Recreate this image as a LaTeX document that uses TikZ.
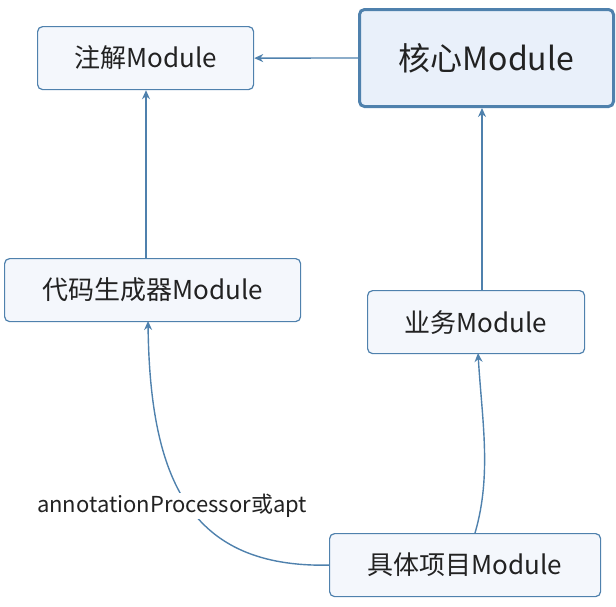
\documentclass[tikz,border=0pt]{standalone}
\usepackage{fontspec}
\setmainfont{Noto Sans CJK SC}
\usetikzlibrary{arrows.meta}
\definecolor{edge}{HTML}{4F81AD}
\definecolor{boxfill}{HTML}{F4F7FC}
\definecolor{corefill}{HTML}{E9F0FA}
\definecolor{txt}{HTML}{222222}
\tikzset{
  mod/.style={draw=edge, line width=1.2pt, fill=boxfill, rounded corners=5pt, text=txt, font=\fontsize{26}{30}\selectfont, anchor=north west, inner sep=0pt},
  link/.style={draw=edge, line width=1.4pt, -{Stealth[length=9pt,width=8pt]}},
}
\begin{document}
\begin{tikzpicture}[x=1pt,y=-1pt]
\useasboundingbox (0,0) rectangle (616,606);
\node[mod, minimum width=216pt, minimum height=63pt] (ann) at (37,26) {注解Module};
\node[mod, line width=3pt, fill=corefill, minimum width=254pt, minimum height=97pt, font=\fontsize{32}{36}\selectfont] (core) at (358,8) {核心Module};
\node[mod, minimum width=296pt, minimum height=63pt] (gen) at (4,258) {代码生成器Module};
\node[mod, minimum width=217pt, minimum height=63pt] (biz) at (367,290) {业务Module};
\node[mod, minimum width=271pt, minimum height=63pt] (prj) at (329,533) {具体项目Module};
\draw[link] (core.west) -- (ann.east);
\draw[link] (gen.north -| 146,0) -- (ann.south -| 146,0);
\draw[link] (biz.north -| 482,0) -- (core.south -| 482,0);
\coordinate (p1) at (475,533);
\coordinate (p2) at (478,353);
\draw[link] (p1) .. controls (492,475) and (482,420) .. (p2);
\coordinate (q1) at (148,321);
\draw[link] (prj.west) .. controls (190,568) and (150,480) .. (q1);
\node[fill=white, text=txt, font=\fontsize{22}{26}\selectfont, inner sep=1pt] (lbl) at (172,506) {annotationProcessor或apt};
\end{tikzpicture}
\end{document}
